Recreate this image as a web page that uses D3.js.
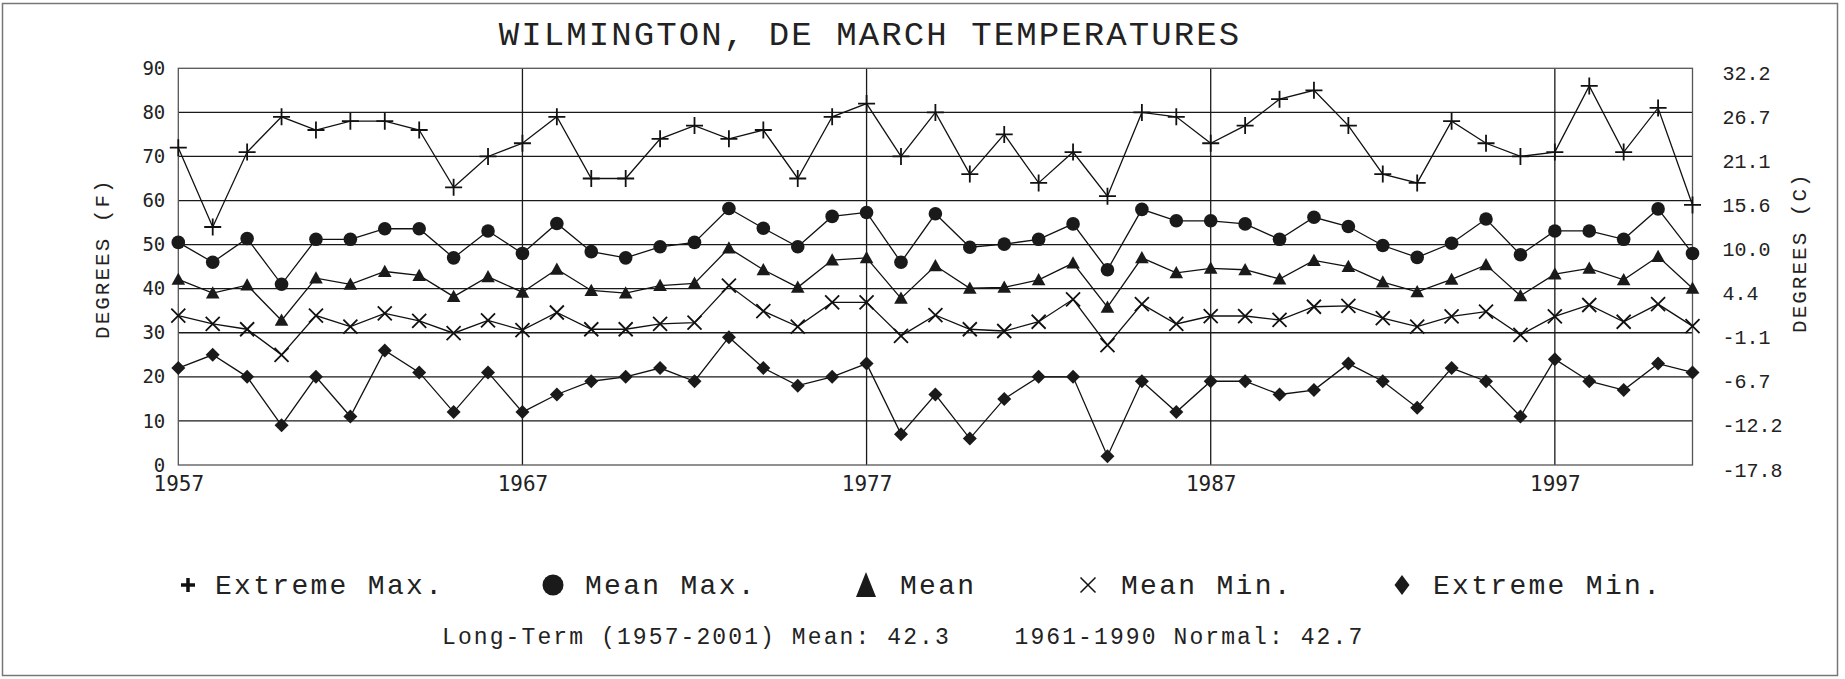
<!DOCTYPE html>
<html>
<head>
<meta charset="utf-8">
<script src="https://cdn.jsdelivr.net/npm/d3@7/dist/d3.min.js"></script>
<style>
html,body{margin:0;padding:0;background:#fff;}
svg{display:block;}
text{font-family:"Liberation Mono","DejaVu Sans Mono",monospace;fill:#222;}
</style>
</head>
<body>
<svg id="chart" width="1845" height="679"></svg>
<script>
// ---- DATA ----
const years = d3.range(1957, 2002);
const extremeMax = [72,54,71,79,76,78,78,76,63,70,73,79,65,65,74,77,74,76,65,79,82,70,80,66,75,64,71,61,80,79,73,77,83,85,77,66,64,78,73,70,71,86,71,81,59];
const meanMax = [50.5,46.0,51.4,41.0,51.2,51.2,53.6,53.6,47.0,53.1,48.0,54.8,48.4,47.0,49.5,50.5,58.2,53.7,49.5,56.4,57.3,46.0,57.0,49.4,50.1,51.2,54.7,44.3,58.0,55.4,55.4,54.7,51.2,56.2,54.1,49.8,47.1,50.3,55.8,47.7,53.1,53.1,51.2,58.1,48.0];
const meanT = [42.1,39.0,40.8,32.8,42.4,41.0,43.9,43.0,38.2,42.7,39.2,44.4,39.6,39.0,40.7,41.2,49.2,44.3,40.3,46.5,47.0,37.8,45.2,40.1,40.3,42.0,45.8,35.8,47.0,43.6,44.6,44.3,42.2,46.4,45.0,41.5,39.3,42.1,45.4,38.4,43.3,44.6,42.0,47.3,40.1];
const meanMin = [33.9,32.0,30.8,25.0,33.9,31.4,34.4,32.7,29.9,32.8,30.6,34.6,30.8,30.8,32.0,32.3,40.7,34.9,31.4,36.9,36.9,29.3,34.0,30.8,30.4,32.5,37.6,27.2,36.5,32.0,33.8,33.8,32.9,35.9,36.1,33.3,31.4,33.7,34.8,29.5,33.7,36.3,32.5,36.5,31.5];
const extremeMin = [22,25,20,9,20,11,26,21,12,21,12,16,19,20,22,19,29,22,18,20,23,7,16,6,15,20,20,2,19,12,19,19,16,17,23,19,13,22,19,11,24,19,17,23,21];
const yTicksF = [0,10,20,30,40,50,60,70,80,90];
const yLabelsC = ["-17.8","-12.2","-6.7","-1.1","4.4","10.0","15.6","21.1","26.7","32.2"];
const xTicks = [1957,1967,1977,1987,1997];
const xGrid = [1967,1977,1987,1997];
const seriesNames = ["Extreme Max.","Mean Max.","Mean","Mean Min.","Extreme Min."];
const titleText = "WILMINGTON, DE MARCH TEMPERATURES";
const footText = "Long-Term (1957-2001) Mean: 42.3    1961-1990 Normal: 42.7";

// ---- LAYOUT ----
const svg = d3.select("#chart");
const L = 178.3, R = 1692.5, T = 68.3, B = 465;
const x = d3.scaleLinear().domain([1957, 2001]).range([L, R]);
const y = d3.scaleLinear().domain([0, 90]).range([B, T]);

// outer frame
svg.append("rect").attr("x", 2.5).attr("y", 3.5).attr("width", 1835).attr("height", 672)
  .attr("fill", "none").attr("stroke", "#777").attr("stroke-width", 1.5);

// title
svg.append("text").attr("x", 870).attr("y", 45).attr("text-anchor", "middle")
  .style("font-size", "34px").style("letter-spacing", "2.1px").text(titleText);

// grid
const g = svg.append("g");
g.selectAll(".hg").data(yTicksF.filter(d => d > 0 && d < 90)).enter().append("line")
  .attr("x1", L).attr("x2", R).attr("y1", d => y(d)).attr("y2", d => y(d))
  .attr("stroke", "#1a1a1a").attr("stroke-width", 1.3);
g.selectAll(".vg").data(xGrid).enter().append("line")
  .attr("y1", T).attr("y2", B).attr("x1", d => x(d)).attr("x2", d => x(d))
  .attr("stroke", "#1a1a1a").attr("stroke-width", 1.3);
// plot border
g.append("rect").attr("x", L).attr("y", T).attr("width", R - L).attr("height", B - T)
  .attr("fill", "none").attr("stroke", "#555").attr("stroke-width", 1.3);

// left axis
const yAxisL = d3.axisLeft(y).tickValues(yTicksF).tickSize(0).tickPadding(13);
const gl = svg.append("g").attr("transform", `translate(${L},0)`).call(yAxisL);
gl.select(".domain").remove();
gl.selectAll("text").style("font-family", "'DejaVu Sans Mono',monospace").style("font-size", "19px").attr("fill", "#222");

// right axis (Celsius)
const yAxisR = d3.axisRight(y).tickValues(yTicksF).tickSize(0).tickPadding(30)
  .tickFormat((d, i) => yLabelsC[i]);
const gr = svg.append("g").attr("transform", `translate(${R},0)`).call(yAxisR);
gr.select(".domain").remove();
gr.selectAll("text").style("font-size", "20px").attr("dy", "0.55em").attr("fill", "#222");

// x axis
const xAxis = d3.axisBottom(x).tickValues(xTicks).tickSize(0).tickPadding(11).tickFormat(d3.format("d"));
const gx = svg.append("g").attr("transform", `translate(0,${B})`).call(xAxis);
gx.select(".domain").remove();
gx.selectAll("text").style("font-family", "'DejaVu Sans Mono',monospace").style("font-size", "21px").attr("fill", "#222");

// axis titles (both read bottom-to-top)
svg.append("text").attr("transform", `translate(109,${(T + B) / 2 - 8}) rotate(-90)`)
  .attr("text-anchor", "middle").style("font-size", "21px").style("letter-spacing", "2px").text("DEGREES (F)");
svg.append("text").attr("transform", `translate(1806,${(T + B) / 2 - 14}) rotate(-90)`)
  .attr("text-anchor", "middle").style("font-size", "21px").style("letter-spacing", "2px").text("DEGREES (C)");

// marker generators
function plusPath(s) { return `M${-s},0H${s}M0,${-s}V${s}`; }
function xPath(s) { return `M${-s},${-s}L${s},${s}M${-s},${s}L${s},${-s}`; }
function triPath(s) { const h = s * 1.0; return `M0,${-h}L${s},${h * 0.8}L${-s},${h * 0.8}Z`; }
function diaPath(s) { return `M0,${-s}L${s},0L0,${s}L${-s},0Z`; }

const series = [
  {name: seriesNames[0], values: extremeMax, type: "plus"},
  {name: seriesNames[1], values: meanMax, type: "circle"},
  {name: seriesNames[2], values: meanT, type: "tri"},
  {name: seriesNames[3], values: meanMin, type: "x"},
  {name: seriesNames[4], values: extremeMin, type: "dia"}
];

const line = d3.line().x((d, i) => x(years[i])).y(d => y(d));

const plot = svg.append("g");
series.forEach(s => {
  plot.append("path").datum(s.values).attr("d", line)
    .attr("fill", "none").attr("stroke", "#111").attr("stroke-width", 1.3);
  const m = plot.selectAll(null).data(s.values).enter().append("g")
    .attr("transform", (d, i) => `translate(${x(years[i])},${y(d)})`);
  drawMarker(m, s.type, false);
});

function drawMarker(sel, type, legend) {
  if (type === "plus") {
    sel.append("path").attr("d", plusPath(legend ? 7 : 8.5)).attr("fill", "none")
      .attr("stroke", "#111").attr("stroke-width", legend ? 3.5 : 1.8);
  } else if (type === "circle") {
    sel.append("circle").attr("r", legend ? 10.5 : 6.8).attr("fill", "#1a1a1a");
  } else if (type === "tri") {
    sel.append("path").attr("d", legend ? "M0,-13L10,12L-10,12Z" : triPath(6.8)).attr("fill", "#1a1a1a");
  } else if (type === "x") {
    sel.append("path").attr("d", xPath(legend ? 7.5 : 7)).attr("fill", "none")
      .attr("stroke", "#111").attr("stroke-width", legend ? 1.5 : 1.8);
  } else {
    sel.append("path").attr("d", legend ? "M0,-10L7.5,0L0,10L-7.5,0Z" : diaPath(7)).attr("fill", "#1a1a1a");
  }
}

// legend
const legendMarkX = [188, 553, 866, 1088, 1402];
const legendTextX = [215, 585, 900, 1121, 1433];
const legY = 585;
series.forEach((s, i) => {
  const m = svg.append("g").attr("transform", `translate(${legendMarkX[i]},${legY})`);
  drawMarker(m, s.type, true);
  svg.append("text").attr("x", legendTextX[i]).attr("y", legY + 9)
    .style("font-size", "28px").style("letter-spacing", "2.3px").text(s.name);
});

// footer
svg.append("text").attr("x", 442).attr("y", 644).attr("xml:space", "preserve")
  .style("white-space", "pre").style("font-size", "23px").style("letter-spacing", "2.1px").text(footText);
</script>
</body>
</html>
